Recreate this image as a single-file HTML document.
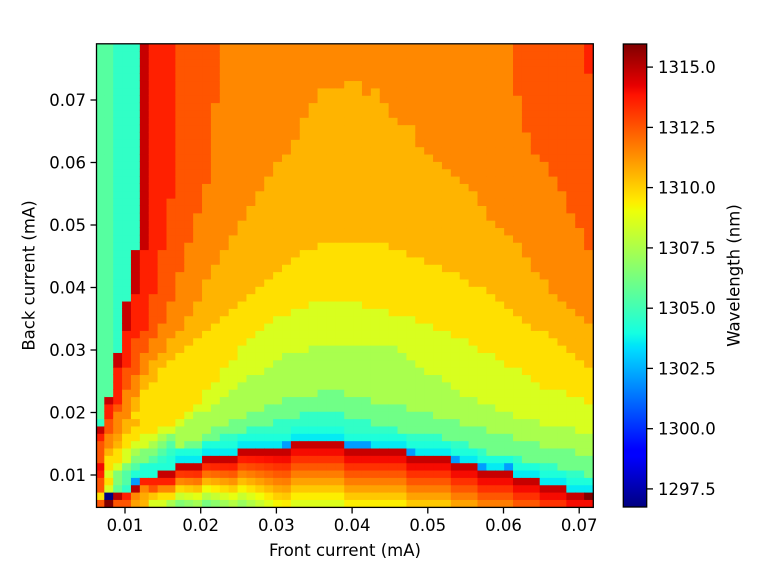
<!DOCTYPE html>
<html><head><meta charset="utf-8"><style>
html,body{margin:0;padding:0;background:#fff;}
svg{display:block;}
text{font-family:"DejaVu Sans","Liberation Sans",sans-serif;fill:#000;}
</style></head><body>
<svg id="fig" width="765" height="565" viewBox="0 0 765 565" xmlns="http://www.w3.org/2000/svg">
<rect width="765" height="565" fill="#fff"/>
<defs>
<clipPath id="cp"><rect x="97" y="44" width="496" height="463"/></clipPath>
<linearGradient id="jet" x1="0" y1="1" x2="0" y2="0">
<stop offset="0" stop-color="#000080"/><stop offset="0.11" stop-color="#0000ff"/><stop offset="0.125" stop-color="#0000ff"/>
<stop offset="0.34" stop-color="#00dbff"/><stop offset="0.35" stop-color="#00e6f7"/><stop offset="0.375" stop-color="#14ffe2"/>
<stop offset="0.64" stop-color="#eeff08"/><stop offset="0.65" stop-color="#f7f500"/><stop offset="0.66" stop-color="#ffec00"/>
<stop offset="0.89" stop-color="#ff1300"/><stop offset="0.91" stop-color="#e80000"/><stop offset="1" stop-color="#800000"/>
</linearGradient>
</defs>
<g clip-path="url(#cp)">
<rect x="97" y="44" width="496" height="463" fill="#c70000"/>
<polygon id="p1" fill="#ff2000" points="97,520 97,425 104,425 104,405 113,405 113,367 122,367 122,330 131,330 131,293 140,293 140,247 149,247 149,30 610,30 610,520"/>
<polygon id="p2" fill="#ff5500" points="97,520 104,440 113,410 122,400 122,370 131,365 131,345 149,330 149,300 157,295 157,260 166,245 166,195 175,195 175,30 583,30 583,73 610,73 610,520"/>
<polygon id="p3" fill="#ff8800" points="97,520 104,445 118,413 131,380 148,347 166,313 175,285 183,260 193,232 193,212 202,212 202,183 210,183 210,103 220,103 220,30 512,30 512,95 520,95 520,132 530,132 530,155 540,155 548,170 557,186 565,200 573,222 583,235 590,255 593,262 610,262 610,520"/>
<polygon id="p4" fill="#ffb400" points="97,520 104,470 113,445 131,413 140,380 166,347 193,313 203,285 218,260 228,245 240,225 247,213 253,198 263,190 272,170 280,162 290,145 298,132 307,110 317,95 325,88 335,82 343,88 352,75 362,88 370,95 378,88 387,112 397,125 407,118 413,133 422,147 432,155 440,162 450,173 460,182 467,188 477,198 485,212 493,222 503,230 513,240 520,247 530,263 540,273 553,297 570,307 580,320 593,327 610,330 610,520"/>
<polygon id="p5" fill="#ffe000" points="97,520 97,490 104,470 122,440 135,413 148,385 160,370 184,347 200,335 225,313 255,287 295,257 335,240 365,240 393,247 430,263 467,280 483,290 510,307 527,323 553,340 573,357 593,368 610,372 610,520"/>
<polygon id="p6" fill="#d7ff1f" points="97,520 97,505 113,470 140,437 157,430 185,418 200,400 220,375 240,350 267,322 317,300 340,300 373,307 407,317 440,330 467,343 483,353 507,363 540,385 570,395 593,405 610,410 610,520"/>
<polygon id="p7" fill="#a9ff4e" points="97,520 110,485 130,465 160,442 200,412 220,400 250,377 283,357 327,343 390,345 420,365 453,390 500,410 550,425 593,435 610,440 610,520"/>
<polygon id="p8" fill="#70ff87" points="97,520 130,480 150,465 170,450 200,437 220,427 250,413 283,400 327,390 387,403 453,420 500,435 550,447 593,455 610,458 610,520"/>
<polygon id="p9" fill="#30ffc6" points="97,520 140,485 150,478 175,460 200,447 233,433 267,423 327,410 387,427 453,440 500,455 550,465 593,475 610,478 610,520"/>
<polygon fill="#30ffc6" points="97,44 140,44 140,247 131,247 131,304 122,304 122,350 113,350 113,397 104,397 104,425 97,425"/>
<rect x="97" y="44" width="16" height="381" fill="#56ffa0"/>
<g id="cells"></g>
</g>
<rect x="96.5" y="43.8" width="496.8" height="463.6" fill="none" stroke="#000" stroke-width="1.3"/>
<g stroke="#000" stroke-width="1.3">
<line x1="125" y1="507.5" x2="125" y2="513.5"/><line x1="200.7" y1="507.5" x2="200.7" y2="513.5"/><line x1="276.4" y1="507.5" x2="276.4" y2="513.5"/><line x1="352.1" y1="507.5" x2="352.1" y2="513.5"/><line x1="427.8" y1="507.5" x2="427.8" y2="513.5"/><line x1="503.5" y1="507.5" x2="503.5" y2="513.5"/><line x1="579.2" y1="507.5" x2="579.2" y2="513.5"/>
<line x1="90.5" y1="475" x2="96.5" y2="475"/><line x1="90.5" y1="412.5" x2="96.5" y2="412.5"/><line x1="90.5" y1="350" x2="96.5" y2="350"/><line x1="90.5" y1="287.5" x2="96.5" y2="287.5"/><line x1="90.5" y1="225" x2="96.5" y2="225"/><line x1="90.5" y1="162.5" x2="96.5" y2="162.5"/><line x1="90.5" y1="100" x2="96.5" y2="100"/>
</g>
<g font-size="16.5" text-anchor="middle">
<text x="125" y="531">0.01</text><text x="200.7" y="531">0.02</text><text x="276.4" y="531">0.03</text><text x="352.1" y="531">0.04</text><text x="427.8" y="531">0.05</text><text x="503.5" y="531">0.06</text><text x="579.2" y="531">0.07</text>
</g>
<g font-size="16.5" text-anchor="end">
<text x="86" y="481">0.01</text><text x="86" y="418.5">0.02</text><text x="86" y="356">0.03</text><text x="86" y="293.5">0.04</text><text x="86" y="231">0.05</text><text x="86" y="168.5">0.06</text><text x="86" y="106">0.07</text>
</g>
<text x="345" y="556" font-size="16.5" text-anchor="middle">Front current (mA)</text>
<text transform="translate(34.5,275.5) rotate(-90)" font-size="16.5" text-anchor="middle">Back current (mA)</text>
<rect x="623.3" y="44" width="23.4" height="463" fill="url(#jet)" stroke="#000" stroke-width="1.3"/>
<g stroke="#000" stroke-width="1.3">
<line x1="647" y1="488.9" x2="653" y2="488.9"/><line x1="647" y1="428.7" x2="653" y2="428.7"/><line x1="647" y1="368.4" x2="653" y2="368.4"/><line x1="647" y1="308.2" x2="653" y2="308.2"/><line x1="647" y1="247.9" x2="653" y2="247.9"/><line x1="647" y1="187.6" x2="653" y2="187.6"/><line x1="647" y1="127.4" x2="653" y2="127.4"/><line x1="647" y1="67.1" x2="653" y2="67.1"/>
</g>
<g font-size="16.5" text-anchor="start">
<text x="658" y="494.9">1297.5</text><text x="658" y="434.7">1300.0</text><text x="658" y="374.4">1302.5</text><text x="658" y="314.2">1305.0</text><text x="658" y="253.9">1307.5</text><text x="658" y="193.6">1310.0</text><text x="658" y="133.4">1312.5</text><text x="658" y="73.1">1315.0</text>
</g>
<text transform="translate(739.5,275.5) rotate(-90)" font-size="16.5" text-anchor="middle">Wavelength (nm)</text>
</svg>
<script>
(function(){
var NS="http://www.w3.org/2000/svg";
var g=document.getElementById('cells');
function lerp(p,t){for(var i=0;i<p.length-1;i++){if(t<=p[i+1][0]){var a=p[i],b=p[i+1];return a[1]+(b[1]-a[1])*(t-a[0])/(b[0]-a[0]);}}return p[p.length-1][1];}
var R=[[0,0],[0.35,0],[0.66,1],[0.89,1],[1,0.5]],G=[[0,0],[0.125,0],[0.375,1],[0.64,1],[0.91,0],[1,0]],B=[[0,0.5],[0.11,1],[0.34,1],[0.65,0],[1,0]];
function h(v){v=Math.max(0,Math.min(1,v));var s=Math.round(v*255).toString(16);return s.length<2?'0'+s:s;}
function jet(t){t=Math.max(0,Math.min(1,t));return '#'+h(lerp(R,t))+h(lerp(G,t))+h(lerp(B,t));}
function parse(id){var s=document.getElementById(id).getAttribute('points').trim().split(/\s+/);return s.map(function(q){var a=q.split(',');return [+a[0],+a[1]];});}
function inside(P,x,y){var c=false;for(var i=0,j=P.length-1;i<P.length;j=i++){var xi=P[i][0],yi=P[i][1],xj=P[j][0],yj=P[j][1];if(((yi>y)!=(yj>y))&&(x<(xj-xi)*(y-yi)/(yj-yi)+xi))c=!c;}return c;}
var polys=[['p9',0.409],['p8',0.486],['p7',0.555],['p6',0.612],['p5',0.673],['p4',0.719],['p3',0.766],['p2',0.82],['p1',0.876]].map(function(a){return [parse(a[0]),a[1]];});
var T=[
[0.82,1.0,0.82,0.82,0.74,0.719,0.612,0.612,0.555],
[0.673,0.0,0.95,0.876,0.766,0.73,0.70,0.673,0.673],
[0.82,0.612,0.47,0.409,0.95,0.766,0.82,0.766,0.766],
[0.82,0.673,0.505,0.45,0.28,0.876,0.876,0.876,0.876],
[0.876,0.612,0.505,0.45,0.39,0.39,0.39,0.938,0.938],
[0.9,0.673,0.612,0.505,0.45,0.39,0.39,0.39,0.39],
[0.82,0.673,0.673,0.612,0.505,0.505,0.45,0.409,0.39],
[0.82,0.719,0.673,0.612,0.555,0.505,0.505,0.45,0.409],
[0.82,0.766,0.719,0.673,0.612,0.612,0.555,0.505,0.45],
[0.876,0.766,0.74,0.673,0.673,0.612,0.612,0.555,0.505],
[0.938,0.82,0.766,0.719,0.673,0.673,0.673,0.612,0.612],
[0.409,0.82,0.766,0.719,0.719,0.673,0.673,0.673,0.673]];
var K={};
function setK(a,b,v){for(var c=a;c<=b;c++)K[c]=v;}
setK(9,11,6);setK(12,15,7);setK(16,21,8);setK(22,27,9);setK(28,34,8);setK(35,39,7);setK(40,42,6);setK(43,46,5);setK(47,49,4);setK(50,52,3);setK(53,55,2);
var LB={21:1,28:1,29:1,30:1,35:1,40:1,43:1,46:1};
function cyanEdge(y){if(y<247)return 140;if(y<304)return 131;if(y<350)return 122;if(y<397)return 113;if(y<425)return 104;return 97;}
var cw=8.8855,rh=7.349,frag=document.createDocumentFragment();
for(var c=0;c<56;c++){
 var xl=c==0?97:104.3+(c-1)*cw, xr=104.3+c*cw, xc=(xl+xr)/2;
 for(var r=0;r<63;r++){
  var yb=507-r*rh, yt=507-(r+1)*rh, yc=(yt+yb)/2, t;
  if(c<=8&&r<=11){t=T[r][c];}
  else if(c>=9&&r<K[c]){
   var n=K[c]-1-r;
   if(n==0){t=(c==55)?1.0:0.938;}
   else{var st=0.04+Math.max(0,280-xc)/120*0.055;t=0.938-st*n;}
  } else {
   t=0.938;
   for(var i=0;i<polys.length;i++){if(inside(polys[i][0],xc,yc)){t=polys[i][1];break;}}
   if(xc<cyanEdge(yc)){t=(c<=1)?0.455:0.409;}
   if(c>=9){
    if(r==K[c]){t=Math.min(t,LB[c]?0.28:0.355);}
    else if(r==K[c]+1){t=Math.min(t,0.385);}
   }
  }
  var e=document.createElementNS(NS,'rect');
  e.setAttribute('x',xl.toFixed(2));e.setAttribute('y',(yt-0.3).toFixed(2));
  e.setAttribute('width',(xr-xl+0.6).toFixed(2));e.setAttribute('height',(rh+0.6).toFixed(2));
  e.setAttribute('fill',jet(t));
  frag.appendChild(e);
 }
}
g.appendChild(frag);
})();
</script>
</body></html>
